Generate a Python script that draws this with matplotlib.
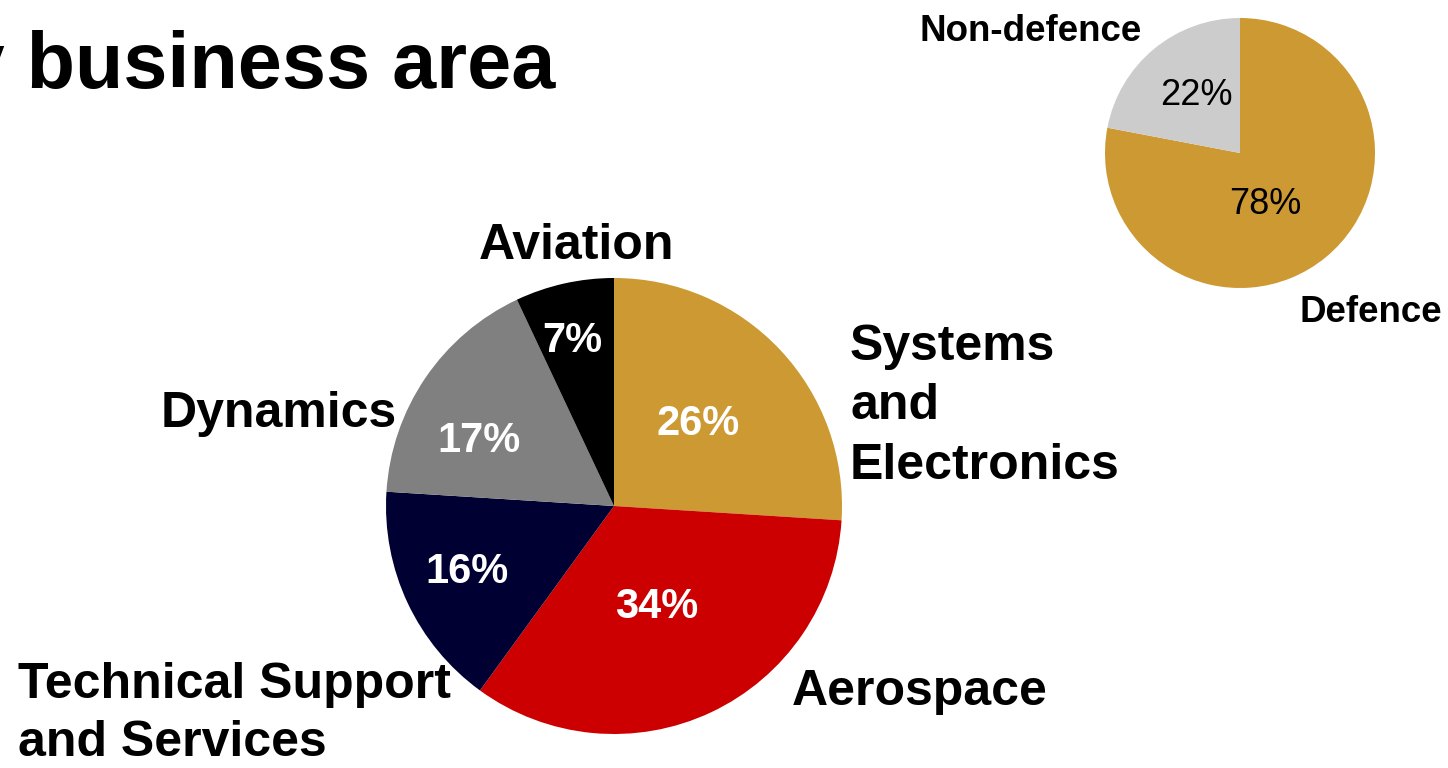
import matplotlib as m
m.use("Agg")
import matplotlib.pyplot as plt
import numpy as np

plt.rcParams['font.family'] = ['Liberation Sans', 'DejaVu Sans']

# Sales by business area (main pie)
areas = ["Systems\nand\nElectronics", "Aerospace", "Technical Support\nand Services",
         "Dynamics", "Aviation"]
areaShare = [26, 34, 16, 17, 7]
areaColors = ["#CC9933", "#CC0000", "#000033", "#808080", "#000000"]

# Defence / non-defence split (small pie)
split = ["Defence", "Non-defence"]
splitShare = [78, 22]
splitColors = ["#CC9933", "#CCCCCC"]

W, H = 1448, 768
fig = plt.figure(figsize=(W / 100, H / 100), dpi=100)
ax = fig.add_axes([0, 0, 1, 1])

# work in pixel units, y measured from the top of the picture
def py(y):
  return H - y

def pctLabels(wedges, values, dists, nudges, fs, color, weight):
  for w, v, d, n in zip(wedges, values, dists, nudges):
    theta = np.radians((w.theta1 + w.theta2) / 2 + n)
    cx, cy = w.center
    x = cx + d * w.r * np.cos(theta)
    y = cy + d * w.r * np.sin(theta) - 0.1 * fs * 100 / 72
    ax.text(x, y, "%d%%" % v, ha='center', va='center', fontsize=fs,
            color=color, fontweight=weight)

bigWedges, _ = ax.pie(areaShare, colors=areaColors, startangle=90, counterclock=False,
                      center=(614, py(506)), radius=228, wedgeprops=dict(linewidth=0))
pctLabels(bigWedges, areaShare, [0.527, 0.466, 0.70, 0.665, 0.763],
          [2.5, -1.3, -2.5, 7.1, 1.4], 30, 'white', 'bold')

smallWedges, _ = ax.pie(splitShare, colors=splitColors, startangle=90, counterclock=False,
                        center=(1240, py(153)), radius=135, wedgeprops=dict(linewidth=0))
pctLabels(smallWedges, splitShare, [0.40, 0.557], [-12.3, -3.8], 26, 'black', 'normal')

# category labels (baseline = last line for multi-line text)
lab = dict(fontsize=36, fontweight='bold', va='baseline')
ax.text(850, py(479), areas[0], ha='left', linespacing=1.38, **lab)
ax.text(792, py(705), areas[1], ha='left', **lab)
ax.text(18, py(756), areas[2], ha='left', linespacing=1.34, **lab)
ax.text(397, py(427), areas[3], ha='right', **lab)
ax.text(576, py(259), areas[4], ha='center', **lab)

small = dict(fontsize=26.5, fontweight='bold', va='baseline')
ax.text(1300, py(322), split[0], ha='left', **small)
ax.text(1031, py(41), split[1], ha='center', **small)

# title, cut off at the left edge of the slide
ax.text(555, py(88), "Sales by business area", ha='right', va='baseline',
        fontsize=57, fontweight='bold')

ax.set_xlim(0, W)
ax.set_ylim(0, H)
ax.axis('off')

plt.savefig("out.png", dpi=100)
